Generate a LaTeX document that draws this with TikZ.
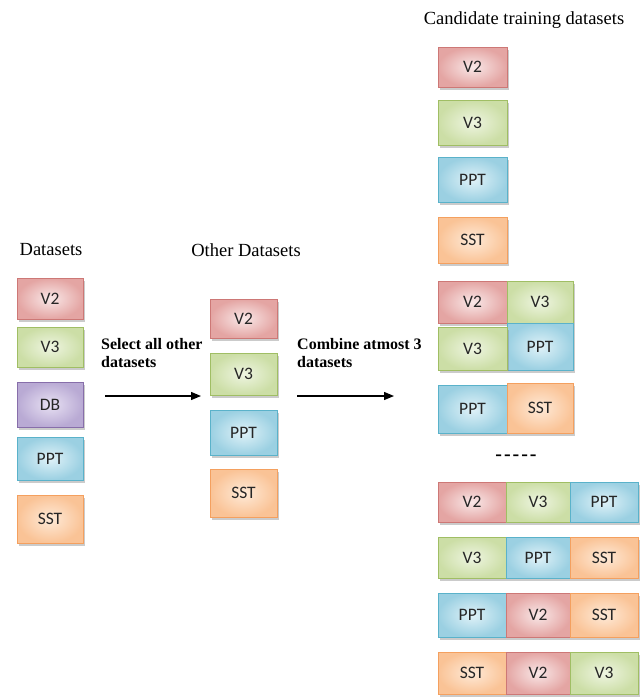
\documentclass[tikz,border=0pt]{standalone}
\usepackage{fontspec}
\setmainfont{Liberation Serif}
\newfontfamily\boxfont{Carlito}
\usetikzlibrary{shadows,arrows.meta}

% dataset colours: border, outer fill, inner (highlight) fill
\definecolor{redB}{RGB}{205,120,118}
\definecolor{redO}{RGB}{228,165,163}
\definecolor{redI}{RGB}{249,232,232}
\definecolor{grnB}{RGB}{160,190,100}
\definecolor{grnO}{RGB}{204,222,166}
\definecolor{grnI}{RGB}{238,245,225}
\definecolor{bluB}{RGB}{90,178,202}
\definecolor{bluO}{RGB}{155,208,226}
\definecolor{bluI}{RGB}{224,242,248}
\definecolor{orgB}{RGB}{244,160,95}
\definecolor{orgO}{RGB}{250,195,150}
\definecolor{orgI}{RGB}{254,234,216}
\definecolor{purB}{RGB}{135,110,170}
\definecolor{purO}{RGB}{185,170,212}
\definecolor{purI}{RGB}{232,225,243}

% dataset box: x1 y1 x2 y2 in pixel-like units
\newcommand\dsbox[7]{%
  \node[#2, minimum width={(#5-#3)*1pt}, minimum height={(#6-#4)*1pt}]
    (#1) at ({(#3+#5)/2},{(#4+#6)/2}) {#7};}

\tikzset{
  dsbase/.style={rectangle, inner sep=0pt, outer sep=0pt, line width=0.8pt,
    font=\boxfont\fontsize{17.5}{19}\selectfont, text=black!85,
    drop shadow={shadow xshift=2pt, shadow yshift=-2.5pt, fill=black!45, opacity=0.45}},
  rd/.style={dsbase, draw=redB, inner color=redI, outer color=redO},
  gr/.style={dsbase, draw=grnB, inner color=grnI, outer color=grnO},
  bl/.style={dsbase, draw=bluB, inner color=bluI, outer color=bluO},
  og/.style={dsbase, draw=orgB, inner color=orgI, outer color=orgO},
  pu/.style={dsbase, draw=purB, inner color=purI, outer color=purO},
  title/.style={font=\fontsize{18.5}{21}\selectfont},
  steplabel/.style={font=\bfseries\fontsize{16}{18.5}\selectfont, align=left, anchor=north west, inner sep=0pt},
  flow/.style={line width=1.3pt, -{Triangle[length=10pt,width=8pt]}}
}

\begin{document}
\begin{tikzpicture}[x=1pt,y=-1pt]
\useasboundingbox (0,0) rectangle (640,699);

% titles
\node[title] (tData) at (51,250) {Datasets};
\node[title] (tOther) at (246,250) {Other Datasets};
\node[title] (tCand) at (524,20) {Candidate training datasets};

% all datasets
\dsbox{aV2}{rd}{17}{278}{83}{319}{V2}
\dsbox{aV3}{gr}{17}{327}{83}{367}{V3}
\dsbox{aDB}{pu}{17}{382}{83}{427}{DB}
\dsbox{aPPT}{bl}{17}{437}{83}{480}{PPT}
\dsbox{aSST}{og}{17}{495}{83}{543}{SST}

% other datasets
\dsbox{oV2}{rd}{210}{299}{277}{338}{V2}
\dsbox{oV3}{gr}{210}{353}{277}{395}{V3}
\dsbox{oPPT}{bl}{210}{410}{277}{455}{PPT}
\dsbox{oSST}{og}{210}{469}{277}{517}{SST}

% candidates: single datasets
\dsbox{cV2}{rd}{438}{47}{507}{87}{V2}
\dsbox{cV3}{gr}{438}{100}{507}{145}{V3}
\dsbox{cPPT}{bl}{438}{157}{507}{202}{PPT}
\dsbox{cSST}{og}{438}{217}{507}{263}{SST}

% candidates: pairs
\dsbox{pAa}{rd}{438}{281}{507}{323}{V2}
\dsbox{pAb}{gr}{507}{281}{573}{323}{V3}
\dsbox{pBb}{bl}{507}{323}{573}{370}{PPT}
\dsbox{pBa}{gr}{438}{327}{507}{370}{V3}
\dsbox{pCa}{bl}{438}{385}{507}{433}{PPT}
\dsbox{pCb}{og}{507}{383}{573}{433}{SST}

\node[font=\bfseries\fontsize{20}{22}\selectfont] (dots) at (516,458)
  {-\kern2pt-\kern2pt-\kern2pt-\kern2pt-};

% candidates: triples
\dsbox{tAa}{rd}{438}{482}{506}{522}{V2}
\dsbox{tAb}{gr}{506}{482}{570}{522}{V3}
\dsbox{tAc}{bl}{570}{482}{638}{522}{PPT}
\dsbox{tBa}{gr}{438}{537}{506}{578}{V3}
\dsbox{tBb}{bl}{506}{537}{570}{578}{PPT}
\dsbox{tBc}{og}{570}{537}{638}{578}{SST}
\dsbox{tCa}{bl}{438}{593}{506}{637}{PPT}
\dsbox{tCb}{rd}{506}{593}{570}{637}{V2}
\dsbox{tCc}{og}{570}{593}{638}{637}{SST}
\dsbox{tDa}{og}{438}{652}{506}{694}{SST}
\dsbox{tDb}{rd}{506}{652}{570}{694}{V2}
\dsbox{tDc}{gr}{570}{652}{638}{694}{V3}

% step arrows and their labels
\coordinate (s1a) at (105,396);
\coordinate (s1b) at (201,396);
\coordinate (s2a) at (297,396);
\coordinate (s2b) at (394,396);
\draw[flow] (s1a) -- (s1b);
\draw[flow] (s2a) -- (s2b);
\node[steplabel] (l1) at (101,338) {Select all other\\datasets};
\node[steplabel] (l2) at (297,338) {Combine atmost 3\\datasets};
\end{tikzpicture}
\end{document}
